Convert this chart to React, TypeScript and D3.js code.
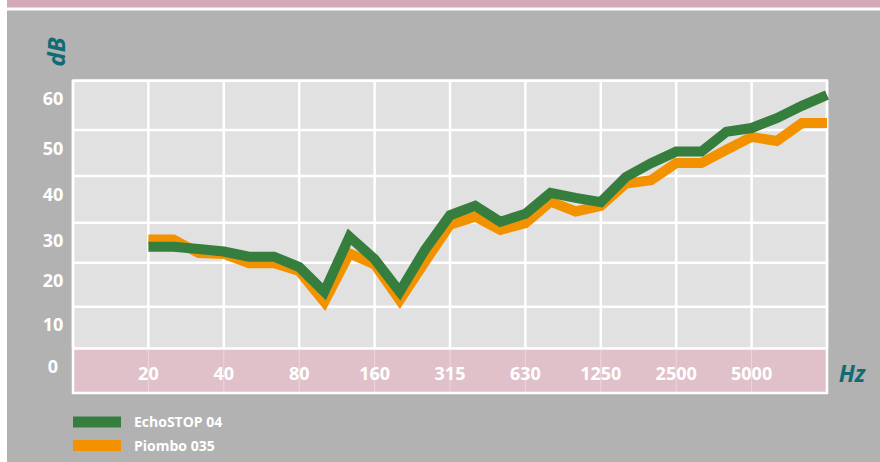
import React, { useEffect, useRef } from 'react';
import * as d3 from 'd3';

// third-octave bands shown on the axis (10 Hz .. 10 kHz)
const frequencies = [
  '10', '12.5', '16', '20', '25', '31.5', '40', '50', '63', '80', '100',
  '125', '160', '200', '250', '315', '400', '500', '630', '800', '1000',
  '1250', '1600', '2000', '2500', '3150', '4000', '5000', '6300', '8000', '10000',
];
const gridFrequencies = ['10', '20', '40', '80', '160', '315', '630', '1250', '2500', '5000', '10000'];
const tickLabels = ['20', '40', '80', '160', '315', '630', '1250', '2500', '5000'];
const dbTicks = [0, 10, 20, 30, 40, 50, 60];

// measured bands
const bands = [
  '20', '25', '31.5', '40', '50', '63', '80', '100', '125', '160', '200',
  '250', '315', '400', '500', '630', '800', '1000', '1250', '1600', '2000',
  '2500', '3150', '4000', '5000', '6300', '8000', '10000',
];
const echoStop = [
  24.0, 24.0, 23.4, 22.8, 21.5, 21.5, 19.0, 13.4, 26.5, 20.9, 13.4,
  23.2, 31.6, 33.6, 30.2, 31.9, 36.4, 35.3, 34.4, 39.8, 42.8,
  45.3, 45.3, 49.6, 50.4, 52.4, 54.9, 57.1,
];
const piombo = [
  25.8, 25.8, 22.4, 22.2, 19.9, 19.9, 18.1, 11.1, 22.3, 19.6, 11.5,
  20.2, 29.5, 31.3, 28.2, 29.9, 34.5, 32.4, 33.6, 38.4, 39.1,
  42.8, 42.8, 45.7, 48.5, 47.6, 51.4, 51.4,
];
const seriesNames = ['EchoSTOP 04', 'Piombo 035'];

const GREEN = '#357e3d';
const ORANGE = '#f39200';
const TEAL = '#0f6c74';
const FONT = "'Open Sans', sans-serif";

export default function App() {
  const ref = useRef<SVGSVGElement>(null);

  useEffect(() => {
    const svg = d3.select(ref.current);
    svg.selectAll('*').remove();

    // background
    svg.append('rect').attr('width', 880).attr('height', 462).attr('fill', '#fff');
    svg.append('rect').attr('x', 7).attr('y', 0).attr('width', 873).attr('height', 7.5).attr('fill', '#d4a8b4');
    svg.append('rect').attr('x', 7).attr('y', 10.5).attr('width', 873).attr('height', 451.5).attr('fill', '#b2b2b2');

    const x = d3.scalePoint<string>().domain(frequencies).range([73, 827]);
    // the drawn grid is not evenly spaced, so map each tick to its line
    const y = d3.scaleLinear().domain(dbTicks).range([348.5, 306.7, 262.7, 222.7, 176, 130, 80.7]);

    const left = x('10')!;
    const right = x('10000')!;
    const top = y(60);
    const bottom = y(0);
    const axisBottom = bottom + 44.5;

    // plot area + pink axis band
    svg.append('rect').attr('x', left).attr('y', top)
      .attr('width', right - left).attr('height', bottom - top).attr('fill', '#e1e1e1');
    svg.append('rect').attr('x', left).attr('y', bottom)
      .attr('width', right - left).attr('height', axisBottom - bottom).attr('fill', '#e0c1c9');

    const grid = svg.append('g').attr('stroke', '#fff');
    grid.selectAll('line.faint').data(gridFrequencies).enter().append('line')
      .attr('class', 'faint')
      .attr('x1', (d) => x(d)!).attr('x2', (d) => x(d)!)
      .attr('y1', bottom).attr('y2', axisBottom)
      .attr('stroke-width', 1).attr('stroke-opacity', 0.35);
    grid.selectAll('line.v').data(gridFrequencies).enter().append('line')
      .attr('class', 'v')
      .attr('x1', (d) => x(d)!).attr('x2', (d) => x(d)!)
      .attr('y1', top).attr('y2', bottom)
      .attr('stroke-width', 2.5);
    grid.selectAll('line.h').data(dbTicks).enter().append('line')
      .attr('class', 'h')
      .attr('x1', left).attr('x2', right)
      .attr('y1', (d) => y(d)).attr('y2', (d) => y(d))
      .attr('stroke-width', 2.5);
    svg.append('rect').attr('x', left).attr('y', top)
      .attr('width', right - left).attr('height', axisBottom - top)
      .attr('fill', 'none').attr('stroke', '#fff').attr('stroke-width', 2.5);

    // tick labels
    svg.append('g').selectAll('text').data(dbTicks).enter().append('text')
      .attr('x', 53).attr('y', (d) => y(d) + 24.5)
      .attr('text-anchor', 'middle')
      .attr('font-family', FONT).attr('font-weight', 700).attr('font-size', 18)
      .attr('fill', '#fff')
      .text((d) => d);
    svg.append('g').selectAll('text').data(tickLabels).enter().append('text')
      .attr('x', (d) => x(d)!).attr('y', bottom + 31)
      .attr('text-anchor', 'middle')
      .attr('font-family', FONT).attr('font-weight', 700).attr('font-size', 18)
      .attr('fill', '#fff')
      .text((d) => d);

    // axis titles
    svg.append('text')
      .attr('transform', 'translate(65,52) rotate(-90)')
      .attr('text-anchor', 'middle')
      .attr('font-family', FONT).attr('font-weight', 700).attr('font-style', 'italic')
      .attr('font-size', 24).attr('fill', TEAL)
      .text('dB');
    svg.append('text')
      .attr('x', 852).attr('y', 382)
      .attr('text-anchor', 'middle')
      .attr('font-family', FONT).attr('font-weight', 700).attr('font-style', 'italic')
      .attr('font-size', 23).attr('fill', TEAL)
      .text('Hz');

    // lines
    const line = d3.line<number>()
      .x((d, i) => x(bands[i])!)
      .y((d) => y(d));
    [[piombo, ORANGE], [echoStop, GREEN]].forEach(([values, color]) => {
      svg.append('path')
        .attr('d', line(values as number[]))
        .attr('fill', 'none')
        .attr('stroke', color as string)
        .attr('stroke-width', 10)
        .attr('stroke-linejoin', 'miter')
        .attr('stroke-miterlimit', 10)
        .attr('stroke-linecap', 'butt');
    });

    // legend
    const legend = svg.append('g').attr('transform', 'translate(73,416.5)');
    [GREEN, ORANGE].forEach((color, i) => {
      legend.append('rect').attr('x', 0).attr('y', i * 23.5)
        .attr('width', 48).attr('height', 11).attr('fill', color);
      legend.append('text').attr('x', 61).attr('y', i * 23.5 + 10.5)
        .attr('font-family', FONT).attr('font-weight', 700).attr('font-size', 14)
        .attr('fill', '#fff')
        .text(seriesNames[i]);
    });
  }, []);

  return (
    <svg
      ref={ref}
      width={880}
      height={462}
      style={{ position: 'absolute', left: 0, top: 0, display: 'block' }}
    />
  );
}
